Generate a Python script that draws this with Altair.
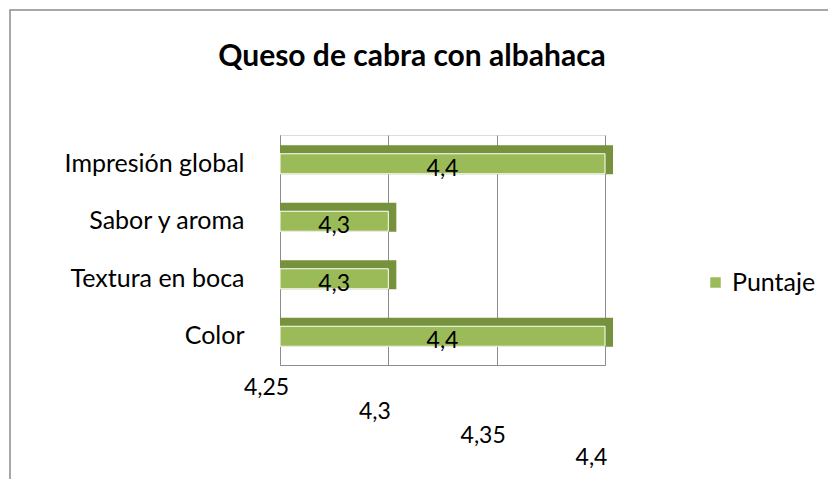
import altair as alt
import pandas as pd

title_text = "Queso de cabra con albahaca"
categories = ["Impresión global", "Sabor y aroma", "Textura en boca", "Color"]
values = [4.4, 4.3, 4.3, 4.4]
labels = ["4,4", "4,3", "4,3", "4,4"]
series = "Puntaje"
x_ticks = [4.25, 4.3, 4.35, 4.4]
x_min, x_max = 4.25, 4.4

df = pd.DataFrame({"cat": categories, "val": values, "lab": labels, "serie": [series] * len(categories)})

FONT = "Lato"
LIGHT = "#9BBB59"
DARK = "#76923C"
GRAY = "#8c8c8c"
FS = 23

x_scale = alt.Scale(domain=[x_min, x_max], zero=False, nice=False)
y_scale = alt.Scale(domain=categories, paddingInner=0.5, paddingOuter=0.25)

y_enc = alt.Y("cat:N", scale=y_scale, sort=categories, title=None,
              axis=alt.Axis(labelFont=FONT, labelFontSize=25, labelColor="#000",
                            labelPadding=36, ticks=False, domain=True, domainColor=GRAY,
                            labelLimit=300))

x_axis = alt.Axis(values=x_ticks, labelExpr="replace(format(datum.value, '.2~f'), '.', ',')",
                  labelFont=FONT, labelFontSize=FS, labelColor="#000", ticks=False,
                  domainColor=GRAY, gridColor=GRAY, grid=True, title=None,
                  labelFlush=False, labelOffset=-14, labelBaseline="top",
                  labelPadding={"condition": [
                      {"test": "datum.value < 4.27", "value": 11},
                      {"test": "datum.value < 4.32", "value": 35},
                      {"test": "datum.value < 4.37", "value": 59}], "value": 81})

base = alt.Chart(df)

dark = base.mark_bar(color=DARK, size=29, yOffset=-4, xOffset=8).encode(
    x=alt.X("val:Q", scale=x_scale, axis=x_axis),
    x2=alt.datum(x_min),
    y=y_enc,
)

light = base.mark_bar(size=20, stroke="white", strokeWidth=1).encode(
    x=alt.X("val:Q", scale=x_scale),
    x2=alt.datum(x_min),
    y=alt.Y("cat:N", scale=y_scale, sort=categories),
    color=alt.Color("serie:N", scale=alt.Scale(range=[LIGHT]),
                    legend=alt.Legend(title=None, orient="none", legendX=423, legendY=135,
                                      symbolType="square", symbolSize=110,
                                      symbolStrokeWidth=0,
                                      labelFont=FONT, labelFontSize=25, labelColor="#000")),
)

text = base.transform_calculate(mid=f"({x_min} + datum.val) / 2").mark_text(
    font=FONT, fontSize=FS, color="#000", dy=5).encode(
    x=alt.X("mid:Q", scale=x_scale),
    y=alt.Y("cat:N", scale=y_scale, sort=categories),
    text="lab:N",
)

title = alt.Chart(alt.Data(values=[{"t": title_text}])).mark_text(
    font=FONT, fontSize=30, fontWeight="bold", color="#000", align="center",
    baseline="middle").encode(
    x=alt.value(132), y=alt.value(-78), text="t:N")

frame = alt.Chart(alt.Data(values=[{}])).mark_rect(
    fill=None, stroke=GRAY, strokeWidth=1.5).encode(
    x=alt.value(-270), y=alt.value(-125), x2=alt.value(700), y2=alt.value(500))

chart = alt.layer(frame, dark, light, text, title).properties(
    width=325, height=230,
    padding={"left": 280, "top": 135, "right": 223, "bottom": 114},
    autosize=alt.AutoSizeParams(type="none"),
).configure_view(stroke=None).configure(background="white")

chart.save("out.html", embed_options={"renderer": "svg", "actions": False})
